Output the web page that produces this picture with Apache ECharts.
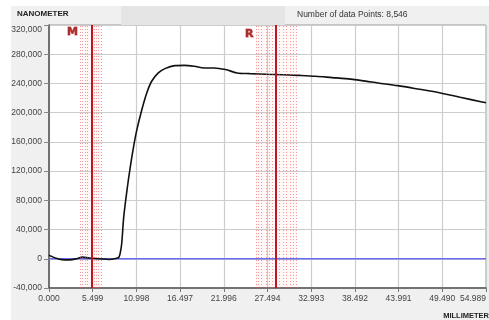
<!DOCTYPE html>
<html>
<head>
<meta charset="utf-8">
<script src="https://cdn.jsdelivr.net/npm/echarts@6/dist/echarts.min.js"></script>
<style>
  html, body { margin: 0; padding: 0; background: #fff; }
  #profileChart { width: 489px; height: 320px; }
</style>
</head>
<body>
<div id="profileChart"></div>
<script>
// measured profile (x in millimeter, y in nanometer)
var profileX = [0.00, 0.37, 0.87, 1.61, 2.60, 3.47, 4.21, 5.08, 6.32, 7.55, 8.42, 8.79, 9.00, 9.16, 9.41, 9.82, 10.24, 10.65, 11.06, 11.68, 12.30, 12.92, 13.75, 14.58, 15.82, 17.05, 18.29, 19.53, 20.77, 22.21, 23.66, 25.30, 27.37, 29.44, 31.50, 33.56, 35.63, 37.28, 39.35, 41.40, 43.88, 46.36, 49.25, 51.73, 54.49, 54.99]
var profileY = [5000, 3000, 800, -1200, -1500, 0, 2300, 1000, 0, -1000, 500, 2000, 10000, 22000, 58000, 94500, 126500, 153900, 176700, 204000, 227000, 243000, 254400, 260300, 264400, 264800, 263500, 261200, 261200, 259000, 254400, 253400, 252500, 252000, 251000, 249800, 248000, 246600, 243900, 240700, 237000, 232500, 227000, 221000, 214700, 213500]

// cursor M and R (solid line + dotted band lines)
var cursorM = 5.33
var bandM = [3.96, 4.21, 4.52, 4.83, 5.70, 5.94, 6.25, 6.56]
var cursorR = 28.49
var bandR = [26.05, 26.34, 26.75, 27.28, 27.71, 28.12, 28.94, 29.44, 29.85, 30.34, 30.75, 31.17]
var cursorLabels = [{ name: 'M', x: 3.96, y: 310000 }, { name: 'R', x: 26.05, y: 308000 }]

// axis ticks
var xInterval = 5.49888
var xTickLabels = ['0.000', '5.499', '10.998', '16.497', '21.996', '27.494', '32.993', '38.492', '43.991', '49.490', '54.989']
var yTicks = [-40000, 0, 40000, 80000, 120000, 160000, 200000, 240000, 280000, 320000]
var pointCount = '8,546'

var labelFont = 'Liberation Sans'
var profileData = profileX.map(function(x, i) { return [x, profileY[i]] })

var bandLines = []
bandM.concat(bandR).forEach(function(v) {
  bandLines.push({ xAxis: v, lineStyle: { color: 'rgba(230,80,80,0.55)', width: 1, type: [1, 2] } })
})
bandLines.push({ xAxis: cursorM, lineStyle: { color: '#c0151b', width: 2, type: 'solid' } })
bandLines.push({ xAxis: cursorR, lineStyle: { color: '#c0151b', width: 2, type: 'solid' } })

function withCommas(v) {
  return String(v).replace(/\B(?=(\d{3})+(?!\d))/g, ',')
}

var chart = echarts.init(document.getElementById('profileChart'))
chart.setOption({
  backgroundColor: '#f0f0f0',
  animation: false,
  graphic: [
    { type: 'rect', shape: { x: 0, y: 0, width: 489, height: 6 }, style: { fill: '#fff' }, silent: true },
    { type: 'rect', shape: { x: 0, y: 0, width: 11, height: 320 }, style: { fill: '#fff' }, silent: true },
    { type: 'rect', shape: { x: 121, y: 6, width: 164, height: 19 }, style: { fill: '#e5e5e5' }, silent: true },
    { type: 'text', left: 17, top: 10, style: { text: 'NANOMETER', fontSize: 8, fontWeight: 'bold', fontFamily: labelFont, fill: '#222' } },
    { type: 'text', left: 297, top: 10, style: { text: 'Number of data Points: ' + pointCount, fontSize: 8.5, fontFamily: labelFont, fill: '#333' } },
    { type: 'text', right: 0, top: 312, style: { text: 'MILLIMETER', fontSize: 7.5, fontWeight: 'bold', fontFamily: labelFont, fill: '#222' } }
  ],
  grid: {
    left: 49,
    top: 25,
    right: -3,
    bottom: 32,
    show: true,
    backgroundColor: '#fff',
    borderColor: '#9a9a9a',
    borderWidth: 1
  },
  xAxis: {
    type: 'value',
    min: 0,
    max: xInterval * 10,
    interval: xInterval,
    axisLine: { show: true, onZero: false, lineStyle: { color: '#555', width: 1.5 } },
    axisTick: { show: true, length: 4, lineStyle: { color: '#777' } },
    axisLabel: {
      margin: 6,
      fontSize: 8.5,
      fontFamily: labelFont,
      color: '#444',
      showMaxLabel: true,
      alignMaxLabel: 'right',
      formatter: function(v) { return xTickLabels[Math.round(v / xInterval)] }
    },
    splitLine: { show: true, lineStyle: { color: '#cdcdcd', width: 1.2 } }
  },
  yAxis: {
    type: 'value',
    min: yTicks[0],
    max: yTicks[yTicks.length - 1],
    interval: 40000,
    axisLine: { show: true, onZero: false, lineStyle: { color: '#555', width: 1.5 } },
    axisTick: { show: true, length: 5, lineStyle: { color: '#888' } },
    axisLabel: {
      margin: 7,
      fontSize: 8.5,
      fontFamily: labelFont,
      color: '#444',
      verticalAlignMaxLabel: 'top',
      formatter: function(v) { return withCommas(v) }
    },
    splitLine: { show: true, lineStyle: { color: '#cdcdcd', width: 1.2 } }
  },
  series: [
    {
      name: 'zero',
      type: 'line',
      symbol: 'none',
      silent: true,
      data: [[0, 0], [xInterval * 10, 0]],
      lineStyle: { color: '#6c6cf0', width: 1.5 },
      z: 2,
      markArea: {
        silent: true,
        itemStyle: { color: 'rgba(255,90,90,0.05)' },
        data: [
          [{ xAxis: bandM[0] }, { xAxis: bandM[bandM.length - 1] }],
          [{ xAxis: bandR[0] }, { xAxis: bandR[bandR.length - 1] }]
        ]
      }
    },
    {
      name: 'profile',
      type: 'line',
      symbol: 'none',
      smooth: 0.3,
      data: profileData,
      lineStyle: { color: '#111', width: 1.6 },
      z: 3
    },
    {
      name: 'cursors',
      type: 'line',
      symbol: 'none',
      data: [],
      z: 4,
      markLine: {
        silent: true,
        symbol: ['none', 'none'],
        label: { show: false },
        data: bandLines
      }
    },
    {
      name: 'cursorLabels',
      type: 'scatter',
      symbolSize: 1,
      itemStyle: { color: 'rgba(0,0,0,0)' },
      silent: true,
      z: 5,
      data: cursorLabels.map(function(c) { return { name: c.name, value: [c.x, c.y] } }),
      label: {
        show: true,
        position: 'left',
        distance: 2,
        formatter: '{b}',
        fontSize: 11,
        fontWeight: 'bold',
        fontFamily: 'DejaVu Sans',
        color: '#8e0b0b',
        textBorderColor: '#d85050',
        textBorderWidth: 1
      }
    }
  ]
})
</script>
</body>
</html>
